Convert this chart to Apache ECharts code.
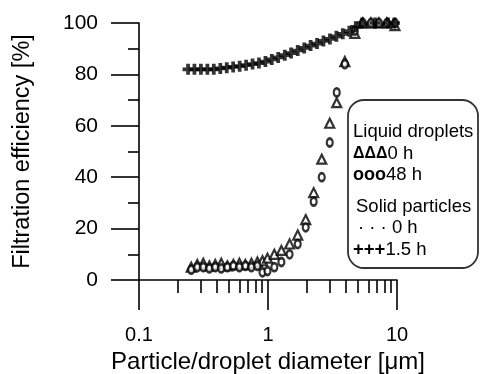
<!DOCTYPE html>
<html>
<head>
<meta charset="UTF-8">
<title>Filtration efficiency</title>
<script src="https://cdn.jsdelivr.net/npm/echarts@6/dist/echarts.min.js"></script>
<style>
  html, body { margin: 0; padding: 0; background: #fff; }
  #main { width: 480px; height: 374px; }
</style>
</head>
<body>
<div id="main"></div>
<script type="text/javascript">
// solid particles, 1.5 h  (diameter in um, efficiency in %)
var solidDiam = [0.240, 0.269, 0.302, 0.339, 0.380, 0.427, 0.479, 0.537, 0.603, 0.676,
                 0.759, 0.851, 0.955, 1.07, 1.20, 1.35, 1.51, 1.70, 1.91, 2.14,
                 2.40, 2.69, 3.02, 3.39, 3.80, 4.27, 4.79, 5.37, 6.03, 6.76,
                 7.59, 8.51, 9.55];
var solid15h = [82, 82, 82, 82, 82, 82.3, 82.6, 82.9, 83.2, 83.6,
                84, 84.4, 85, 85.8, 86.6, 87.5, 88.3, 89.3, 90.3, 91.2,
                92, 93, 93.8, 94.8, 95.8, 96.8, 98.5, 100, 100.5, 100,
                100.5, 100, 100];

// liquid droplets (same sizes for both runs)
var liquidDiam = [0.254, 0.283, 0.315, 0.351, 0.390, 0.434, 0.484, 0.539, 0.600, 0.668,
                  0.744, 0.828, 0.906, 0.991, 1.12, 1.27, 1.47, 1.70, 1.96, 2.26,
                  2.61, 3.01, 3.41, 3.94, 4.71, 5.43, 6.28, 7.24, 8.36, 9.64];
var liquid0h = [5, 6, 6.5, 5.5, 6, 6.5, 5.5, 6, 6.5, 6,
                6.5, 7, 7.5, 8.5, 10, 11.5, 14, 17.5, 23.5, 34,
                47, 61, 69, 85, 96, 100, 100, 100, 100, 99];
var liquid48h = [4, 5, 5, 4.5, 5, 4.5, 5, 5.5, 5, 5.5,
                 5, 5.5, 3, 3.5, 5, 7, 10, 14, 20.5, 30.5,
                 40, 53.5, 73, 84, 97, 100, 100, 100, 100, 100];

var xMajor = [0.1, 1, 10];
var xMinor = [0.2, 0.3, 0.4, 0.5, 0.6, 0.7, 0.8, 0.9, 2, 3, 4, 5, 6, 7, 8, 9];

function pairs(xs, ys) {
    var out = [];
    for (var i = 0; i < xs.length; i++) {
        out.push([xs[i], ys[i]]);
    }
    return out;
}

var FONT = '"Liberation Sans", Arial, sans-serif';
var plusPath = 'path://M3.3,0H6.7V3.3H10V6.7H6.7V10H3.3V6.7H0V3.3H3.3Z';

var myChart = echarts.init(document.getElementById('main'));

var option = {
    animation: false,
    backgroundColor: '#fff',
    grid: { left: 139, right: 83, top: 23, bottom: 94, outerBoundsMode: 'none', containLabel: false },
    xAxis: [
        {
            type: 'log',
            logBase: 10,
            min: 0.1,
            max: 10,
            name: 'Particle/droplet diameter [\u03bcm]',
            nameLocation: 'middle',
            nameGap: 66,
            nameTextStyle: { fontFamily: FONT, fontSize: 24, color: '#000' },
            axisLine: { onZero: false, lineStyle: { color: '#000', width: 1.6 } },
            axisTick: { show: true, inside: false, length: 30, customValues: xMajor, lineStyle: { color: '#000', width: 1.6 } },
            axisLabel: {
                customValues: xMajor,
                margin: 45,
                fontFamily: FONT, fontSize: 20, color: '#000',
                formatter: function (v) { return String(v); }
            },
            splitLine: { show: false }
        },
        {
            // minor ticks only
            type: 'log',
            logBase: 10,
            min: 0.1,
            max: 10,
            position: 'bottom',
            offset: 2,
            axisLine: { show: false },
            axisTick: { show: true, length: 13, customValues: xMinor, lineStyle: { color: '#000', width: 1.6 } },
            axisLabel: { show: false },
            splitLine: { show: false }
        }
    ],
    yAxis: {
        type: 'value',
        min: 0,
        max: 100,
        interval: 20,
        name: 'Filtration efficiency [%]',
        nameLocation: 'middle',
        nameGap: 104,
        nameTextStyle: { fontFamily: FONT, fontSize: 23.5, color: '#000' },
        axisLine: { show: true, lineStyle: { color: '#000', width: 1.6 } },
        axisTick: { show: true, inside: false, length: 28, lineStyle: { color: '#000', width: 1.6 } },
        minorTick: { show: true, splitNumber: 2, length: 11, lineStyle: { color: '#000', width: 1.6 } },
        axisLabel: { margin: 41, fontFamily: FONT, fontSize: 21, color: '#000' },
        splitLine: { show: false }
    },
    series: [
        {
            name: 'Liquid droplets 0 h',
            type: 'scatter',
            data: pairs(liquidDiam, liquid0h),
            symbol: 'triangle',
            symbolSize: 9,
            itemStyle: { color: '#fff', borderColor: '#000', borderWidth: 2.2 },
            z: 3
        },
        {
            name: 'Liquid droplets 48 h',
            type: 'scatter',
            data: pairs(liquidDiam, liquid48h),
            symbol: 'circle',
            symbolSize: [6, 8],
            itemStyle: { color: '#fff', borderColor: '#000', borderWidth: 2.4 },
            z: 3
        },
        {
            name: 'Solid particles 1.5 h',
            type: 'scatter',
            data: pairs(solidDiam, solid15h),
            symbol: plusPath,
            symbolSize: 11,
            itemStyle: { color: '#000' },
            z: 4
        }
    ],
    // legend box
    graphic: [
        {
            type: 'rect',
            shape: { x: 348, y: 100, width: 130, height: 168, r: 16 },
            style: { fill: '#fff', stroke: '#333', lineWidth: 1.8 },
            z: 10
        },
        {
            type: 'text', x: 353, y: 132, z: 11,
            style: { text: 'Liquid droplets', font: '18.5px ' + FONT, fill: '#000', verticalAlign: 'middle' }
        },
        {
            type: 'text', x: 353, y: 154, z: 11,
            style: {
                text: '{s|\u0394\u0394\u0394}0 h', font: '18.5px ' + FONT, fill: '#000', verticalAlign: 'middle',
                rich: { s: { fontFamily: FONT, fontSize: 16, fontWeight: 'bold', fill: '#000' } }
            }
        },
        {
            type: 'text', x: 353, y: 175, z: 11,
            style: {
                text: '{s|ooo}48 h', font: '18.5px ' + FONT, fill: '#000', verticalAlign: 'middle',
                rich: { s: { fontFamily: FONT, fontSize: 18, fontWeight: 'bold', fill: '#000' } }
            }
        },
        {
            type: 'text', x: 356, y: 207, z: 11,
            style: { text: 'Solid particles', font: '18.5px ' + FONT, fill: '#000', verticalAlign: 'middle' }
        },
        {
            type: 'text', x: 358, y: 228, z: 11,
            style: { text: '\u00b7 \u00b7 \u00b7 0 h', font: '18.5px ' + FONT, fill: '#000', verticalAlign: 'middle' }
        },
        {
            type: 'text', x: 353, y: 250, z: 11,
            style: {
                text: '{s|+++}1.5 h', font: '18.5px ' + FONT, fill: '#000', verticalAlign: 'middle',
                rich: { s: { fontFamily: FONT, fontSize: 18.5, fontWeight: 'bold', fill: '#000' } }
            }
        }
    ]
};

myChart.setOption(option);
</script>
</body>
</html>
